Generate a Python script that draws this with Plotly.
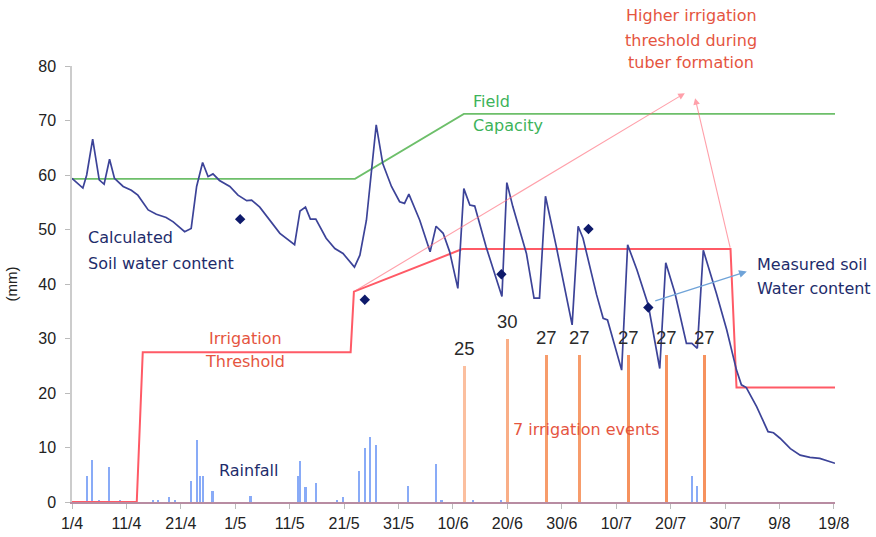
import plotly.graph_objects as go

# ---------------- data ----------------
tick_days = [0, 10, 20, 30, 40, 50, 60, 70, 80, 90, 100, 110, 120, 130, 140]
tick_labels = ["1/4", "11/4", "21/4", "1/5", "11/5", "21/5", "31/5", "10/6",
               "20/6", "30/6", "10/7", "20/7", "30/7", "9/8", "19/8"]

swc_days = [0, 2.0, 2.7, 3.8, 5.0, 5.9, 6.9, 7.8, 9.4, 10.9, 12.1, 14.0, 15.5, 17.3,
            18.6, 20.7, 21.9, 22.9, 24.0, 25.0, 25.9, 27.1, 29.0, 30.5, 32.1, 33.0,
            34.5, 36.3, 38.2, 40.9, 41.9, 42.9, 43.8, 44.8, 46.7, 48.3, 49.8, 51.9,
            52.9, 54.1, 55.9, 57.1, 58.7, 60.2, 61.1, 61.9, 63.9, 65.8, 66.9, 68.2,
            69.4, 70.9, 72.0, 73.1, 74.0, 76.1, 78.0, 79.0, 79.9, 81.0, 83.5, 84.9,
            85.9, 87.0, 89.0, 91.9, 93.0, 93.9, 96.4, 97.6, 98.4, 101.0, 102.1, 103.8,
            105.9, 108.0, 109.1, 110.8, 112.9, 113.9, 114.9, 116.0, 118.4, 120.3,
            122.1, 123.0, 123.9, 125.8, 127.9, 128.9, 130.1, 132.0, 133.8, 135.6,
            137.4, 140.2]
swc_mm = [59.4, 57.6, 60.0, 66.6, 59.1, 58.3, 62.9, 59.4, 57.9, 57.2, 56.3, 53.6, 52.8,
          52.2, 51.4, 49.6, 50.2, 57.9, 62.3, 59.7, 60.2, 59.0, 57.9, 56.3, 55.3, 55.4,
          54.1, 51.7, 49.3, 47.2, 53.4, 54.1, 51.9, 51.9, 48.4, 46.5, 45.6, 43.1,
          45.3, 51.7, 69.2, 62.1, 57.9, 55.1, 54.8, 56.5, 51.7, 45.9, 50.6, 49.3,
          45.9, 39.2, 57.5, 54.5, 54.3, 46.8, 40.7, 37.7, 58.6, 54.2, 45.6, 37.4,
          37.4, 56.1, 46.8, 32.5, 50.6, 48.4, 38.0, 33.7, 33.4, 24.2, 47.2, 42.6,
          36.1, 24.5, 43.9, 38.3, 29.1, 29.1, 28.2, 46.2, 38.3, 31.6,
          24.2, 21.5, 21.0, 17.5, 12.9, 12.7, 11.7, 9.8, 8.6, 8.2,
          8.0, 7.1]

fc_days = [0, 52, 72, 140.2]
fc_mm = [59.3, 59.3, 71.2, 71.2]

thr_days = [0, 11.9, 13.0, 51.2, 51.8, 71.7, 121.0, 122.1, 140.2]
thr_mm = [0, 0, 27.5, 27.5, 38.6, 46.4, 46.4, 21.0, 21.0]

rain_days = [2.8, 3.7, 5.0, 6.8, 8.8, 14.9, 15.8, 17.8, 18.9, 21.8, 22.9, 23.5, 24.1,
             25.8, 32.8, 41.5, 41.9, 42.9, 44.8, 48.7, 49.8, 52.8, 53.8, 54.8, 55.8,
             61.8, 66.9, 67.9, 73.7, 78.9, 113.9, 114.9]
rain_mm = [4.8, 7.7, 0.2, 6.5, 0.2, 0.3, 0.3, 1.0, 0.2, 3.9, 11.4, 4.8, 4.8,
           2.1, 1.1, 4.8, 7.6, 2.7, 3.5, 0.4, 0.9, 5.6, 10.0, 12.0, 10.4,
           2.9, 7.0, 0.2, 0.2, 0.2, 4.8, 2.9]

irr_days = [72.1, 80.1, 87.2, 93.2, 102.2, 109.3, 116.3]
irr_mm = [25, 30, 27, 27, 27, 27, 27]

meas_days = [30.9, 53.8, 78.9, 94.9, 105.9]
meas_mm = [51.9, 37.1, 41.8, 50.1, 35.7]

# ---------------- figure ----------------
W, H = 876, 537
L, T = 72, 66
PW, PH = 763, 436
R, B = W - L - PW, H - T - PH


def px(xp, yp):
    """page pixel -> paper coordinates"""
    return (xp - L) / PW, (T + PH - yp) / PH


fig = go.Figure()

fig.add_trace(go.Bar(x=rain_days, y=rain_mm, width=0.4,
                     marker=dict(color="#89ABF7", line=dict(width=0)),
                     showlegend=False, hoverinfo="skip"))
fig.add_trace(go.Bar(x=irr_days, y=irr_mm, width=0.55,
                     marker=dict(color=["#FBBF9F", "#F9AE87", "#F79C6B", "#F79C6B",
                                        "#F6925E", "#F6925E", "#F6925E"],
                                 line=dict(width=0)),
                     showlegend=False, hoverinfo="skip"))
fig.add_trace(go.Scatter(x=fc_days, y=fc_mm, mode="lines",
                         line=dict(color="#6DBF6A", width=1.8), showlegend=False))
fig.add_trace(go.Scatter(x=thr_days, y=thr_mm, mode="lines",
                         line=dict(color="#FF5A66", width=2), showlegend=False))
fig.add_trace(go.Scatter(x=swc_days, y=swc_mm, mode="lines",
                         line=dict(color="#3C4398", width=1.7), showlegend=False))
fig.add_trace(go.Scatter(x=meas_days, y=meas_mm, mode="markers",
                         marker=dict(symbol="diamond", size=8, color="#0E1A6B"),
                         showlegend=False))

# irrigation amount labels
for d, v in zip(irr_days, irr_mm):
    fig.add_annotation(x=d, y=v, text=str(v), showarrow=False, yshift=17,
                       font=dict(family="Liberation Sans, Arial", size=18.5, color="#2a2a2a"))

FONT = "DejaVu Sans, sans-serif"
RED = "#E5553F"
GREEN = "#3DB35A"
NAVY = "#1E2C6B"


def label(text, xp, yp, color, anchor="left", size=16):
    xx, yy = px(xp, yp)
    fig.add_annotation(x=xx, y=yy, xref="paper", yref="paper", text=text,
                       showarrow=False, xanchor=anchor, yanchor="middle",
                       xshift=-1 if anchor == "left" else 0,
                       font=dict(family=FONT, size=size, color=color))


label("Higher irrigation", 691, 16, RED, "center")
label("threshold during", 691, 40, RED, "center")
label("tuber formation", 691, 63, RED, "center")
label("Field", 472, 101, GREEN)
label("Capacity", 472, 126, GREEN)
label("Calculated", 87, 238, NAVY)
label("Soil water content", 87, 263, NAVY)
label("Irrigation", 245, 338, RED, "center")
label("Threshold", 245, 362, RED, "center")
label("Rainfall", 218, 470, NAVY)
label("7 irrigation events", 512, 429, RED)
label("Measured soil", 756, 264, NAVY)
label("Water content", 756, 288, NAVY)

# arrows
fig.add_annotation(x=112.6, y=75.0, ax=51.8, ay=38.6, xref="x", yref="y",
                   axref="x", ayref="y", showarrow=True, arrowhead=2,
                   arrowsize=1.2, arrowwidth=1.1, arrowcolor="rgba(255,110,125,0.65)", text="")
fig.add_annotation(x=114.5, y=74.1, ax=121.0, ay=46.4, xref="x", yref="y",
                   axref="x", ayref="y", showarrow=True, arrowhead=2,
                   arrowsize=1.2, arrowwidth=1.1, arrowcolor="rgba(255,110,125,0.65)", text="")
fig.add_annotation(x=124.0, y=42.3, ax=106.9, ay=36.8, xref="x", yref="y",
                   axref="x", ayref="y", showarrow=True, arrowhead=2,
                   arrowsize=1.2, arrowwidth=1.3, arrowcolor="#6FA3D8", text="")

TICKFONT = dict(family="Liberation Sans, Arial", size=16, color="#222222")

fig.update_layout(
    width=W, height=H,
    margin=dict(l=L, r=R, t=T, b=B, autoexpand=False),
    paper_bgcolor="white", plot_bgcolor="white",
    barmode="overlay", bargap=0,
    showlegend=False,
    xaxis=dict(range=[0, 140.2], tickvals=tick_days, ticktext=tick_labels,
               automargin=False,
               showgrid=False, zeroline=False, showline=True,
               linecolor="#B88CA2", linewidth=2,
               ticks="outside", ticklen=5, tickcolor="#BBBBBB",
               tickfont=TICKFONT, ticklabelstandoff=1),
    yaxis=dict(range=[0, 80], tickvals=[0, 10, 20, 30, 40, 50, 60, 70, 80],
               automargin=False,
               showgrid=False, zeroline=False, showline=True,
               linecolor="#CCCCCC", linewidth=1.5,
               ticks="outside", ticklen=5, tickcolor="#BBBBBB",
               tickfont=TICKFONT, ticklabelstandoff=6,
               title=dict(text="(mm)", standoff=17,
                          font=dict(family="Liberation Sans, Arial", size=15, color="#222222"))),
)

fig.write_html("out.html",
               config={"displayModeBar": False},
               post_script="document.body.style.margin='0';document.body.style.overflow='hidden';")
